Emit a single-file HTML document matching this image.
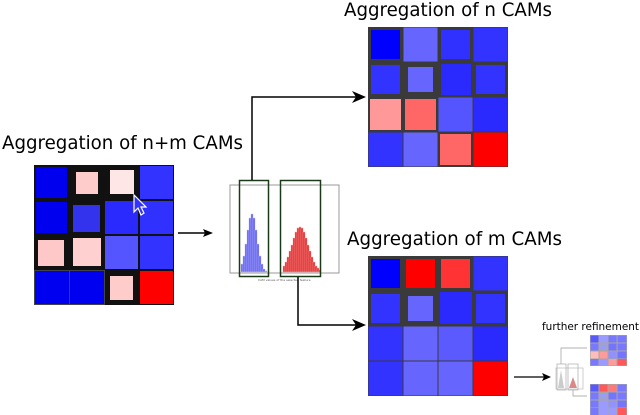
<!DOCTYPE html>
<html><head><style>body{margin:0;background:#fff}svg{display:block}text{font-family:"DejaVu Sans","Liberation Sans",sans-serif}</style></head><body>
<svg width="640" height="415" viewBox="0 0 640 415" xmlns="http://www.w3.org/2000/svg">
<text x="2" y="149" font-size="19" textLength="241" lengthAdjust="spacingAndGlyphs">Aggregation of n+m CAMs</text>
<text x="344" y="16" font-size="19" textLength="208" lengthAdjust="spacingAndGlyphs">Aggregation of n CAMs</text>
<text x="347" y="245" font-size="19" textLength="215" lengthAdjust="spacingAndGlyphs">Aggregation of m CAMs</text>
<text x="542" y="330" font-size="10.5" textLength="97" lengthAdjust="spacingAndGlyphs">further refinement</text>

<!-- left grid -->
<rect x="34" y="165" width="140" height="140" fill="#111"/>
<g>
<rect x="36" y="167" width="31" height="31" fill="#0000ee"/>
<rect x="76" y="172" width="22" height="22" fill="#ffcccc"/>
<rect x="110" y="170" width="24" height="24" fill="#ffe6e6"/>
<rect x="140" y="166" width="33" height="33" fill="#3333ff"/>
<rect x="36" y="202" width="31" height="31" fill="#0000ee"/>
<rect x="73" y="205" width="27" height="27" fill="#3333ee"/>
<rect x="105" y="201" width="33" height="33" fill="#2a2aff"/>
<rect x="140" y="201" width="33" height="33" fill="#3030ff"/>
<rect x="38" y="240" width="26" height="26" fill="#ffc8c8"/>
<rect x="73" y="238" width="28" height="28" fill="#ffd0d0"/>
<rect x="105" y="236" width="33" height="33" fill="#5555ff"/>
<rect x="140" y="236" width="33" height="33" fill="#3333ff"/>
<rect x="34.5" y="270.5" width="35" height="34" fill="#0000f0" stroke="#444" stroke-width="1"/>
<rect x="69.5" y="270.5" width="35" height="34" fill="#0000f0" stroke="#444" stroke-width="1"/>
<rect x="110" y="276" width="23" height="24" fill="#ffcccc"/>
<rect x="140" y="271" width="33" height="33" fill="#ff0000"/>
</g>
<polygon points="134,195 134,212 138,208 141,215 144,213 141,207 146,207" fill="#3333ff" stroke="#fff" stroke-width="1.2"/>

<!-- arrow left -->
<line x1="178" y1="233" x2="206" y2="233" stroke="#000" stroke-width="1.5"/>
<polygon points="213,233 203,229 205,233 203,237" fill="#000"/>

<!-- histogram -->
<rect x="230" y="185" width="109" height="88" fill="#fff" stroke="#999" stroke-width="1"/>
<g fill="#5555ee" stroke="#ccccff" stroke-width="0.5">
<rect x="241" y="264" width="2" height="8"/><rect x="243" y="256" width="2" height="16"/><rect x="245" y="244" width="2" height="28"/><rect x="247" y="230" width="2" height="42"/><rect x="249" y="218" width="2" height="54"/><rect x="251" y="214" width="2" height="58"/><rect x="253" y="218" width="2" height="54"/><rect x="255" y="230" width="2" height="42"/><rect x="257" y="244" width="2" height="28"/><rect x="259" y="256" width="2" height="16"/><rect x="261" y="264" width="2" height="8"/><rect x="263" y="269" width="2" height="3"/><rect x="265" y="271" width="2" height="1"/>
</g>
<g fill="#dd2222" stroke="#ffaaaa" stroke-width="0.5">
<rect x="283" y="266" width="2" height="6"/><rect x="285" y="262" width="2" height="10"/><rect x="287" y="257" width="2" height="15"/><rect x="289" y="251" width="2" height="21"/><rect x="291" y="245" width="2" height="27"/><rect x="293" y="238" width="2" height="34"/><rect x="295" y="232" width="2" height="40"/><rect x="297" y="228" width="2" height="44"/><rect x="299" y="227" width="2" height="45"/><rect x="301" y="228" width="2" height="44"/><rect x="303" y="232" width="2" height="40"/><rect x="305" y="238" width="2" height="34"/><rect x="307" y="245" width="2" height="27"/><rect x="309" y="251" width="2" height="21"/><rect x="311" y="257" width="2" height="15"/><rect x="313" y="262" width="2" height="10"/><rect x="315" y="266" width="2" height="6"/><rect x="317" y="268" width="2" height="4"/><rect x="319" y="270" width="2" height="2"/>
</g>
<text x="258" y="281" font-size="3" fill="#555">CAM values of the selected feature</text>
<rect x="239.5" y="180.5" width="29" height="96" fill="none" stroke="#1a3a1a" stroke-width="1.5"/>
<rect x="280.5" y="180.5" width="40" height="96" fill="none" stroke="#1a3a1a" stroke-width="1.5"/>

<!-- connectors -->
<polyline points="252,180 252,97 356,97" fill="none" stroke="#000" stroke-width="1.5"/>
<polygon points="366,97 352,91 356,97 352,103" fill="#000"/>
<polyline points="298,277 298,325 356,325" fill="none" stroke="#000" stroke-width="1.5"/>
<polygon points="366,325 352,319 356,325 352,331" fill="#000"/>

<!-- n grid -->
<rect x="368" y="27" width="140" height="140" fill="#3a3a3a"/>
<rect x="371" y="30" width="29" height="29" fill="#0000ff"/>
<rect x="403.5" y="27.5" width="34" height="34" fill="#6666ff"/>
<rect x="441" y="30" width="29" height="29" fill="#3030ff"/>
<rect x="473.5" y="27.5" width="34" height="34" fill="#3333ff"/>
<rect x="371" y="65" width="29" height="29" fill="#3333ff"/>
<rect x="408" y="67" width="25" height="25" fill="#6666ff"/>
<rect x="441" y="64" width="30" height="31" fill="#2a2aff"/>
<rect x="476" y="65" width="29" height="29" fill="#3333ff"/>
<rect x="370" y="99" width="31" height="31" fill="#ff9999"/>
<rect x="405" y="99" width="31" height="31" fill="#ff6666"/>
<rect x="438.5" y="97.5" width="34" height="34" fill="#5555ff"/>
<rect x="473.5" y="97.5" width="34" height="34" fill="#2a2aff"/>
<rect x="368.5" y="132.5" width="34" height="34" fill="#3333ff"/>
<rect x="403.5" y="132.5" width="34" height="34" fill="#6666ff"/>
<rect x="440" y="134" width="31" height="31" fill="#ff6666"/>
<rect x="473.5" y="132.5" width="34" height="34" fill="#ff0000"/>

<!-- m grid -->
<rect x="368" y="256" width="140" height="140" fill="#3a3a3a"/>
<rect x="371" y="259" width="29" height="29" fill="#0000ff"/>
<rect x="406" y="259" width="29" height="29" fill="#ff0000"/>
<rect x="441" y="259" width="29" height="29" fill="#ff3333"/>
<rect x="473.5" y="256.5" width="34" height="34" fill="#3333ff"/>
<rect x="371" y="294" width="29" height="29" fill="#3333ff"/>
<rect x="408" y="296" width="25" height="25" fill="#6666ff"/>
<rect x="440" y="292" width="32" height="32" fill="#2a2aff"/>
<rect x="476" y="294" width="29" height="29" fill="#3333ff"/>
<rect x="368.5" y="326.5" width="34" height="34" fill="#3333ff"/>
<rect x="403.5" y="326.5" width="34" height="34" fill="#6666ff"/>
<rect x="438.5" y="326.5" width="34" height="34" fill="#5a5aff"/>
<rect x="473.5" y="326.5" width="34" height="34" fill="#2a2aff"/>
<rect x="368.5" y="361.5" width="34" height="34" fill="#3333ff"/>
<rect x="403.5" y="361.5" width="34" height="34" fill="#6666ff"/>
<rect x="438.5" y="361.5" width="34" height="34" fill="#6666ff"/>
<rect x="473.5" y="361.5" width="34" height="34" fill="#ff0000"/>

<!-- further refinement -->
<line x1="514" y1="377" x2="544" y2="377" stroke="#000" stroke-width="1.3"/>
<polygon points="551,377 542,373 544,377 542,381" fill="#000"/>
<rect x="556" y="368" width="27" height="21" fill="#fff" stroke="#bbb" stroke-width="0.7"/>
<rect x="557" y="364" width="9" height="26" fill="none" stroke="#aaa" stroke-width="0.7"/>
<rect x="568" y="364" width="10" height="26" fill="none" stroke="#aaa" stroke-width="0.7"/>
<polygon points="558,388 561,370 564,388" fill="#ccc"/>
<polygon points="569,388 573,377 577,388" fill="#dd8888"/>
<polyline points="561,364 561,348 587,348" fill="none" stroke="#999" stroke-width="0.7"/>
<polyline points="573,390 573,396 587,396" fill="none" stroke="#999" stroke-width="0.7"/>
<g opacity="0.65">
<rect x="590" y="335" width="37" height="31" fill="#777"/>
<rect x="590.5" y="335.5" width="8" height="7" fill="#0000ff"/><rect x="599.5" y="335.5" width="8" height="7" fill="#6666ff"/><rect x="608.5" y="335.5" width="8" height="7" fill="#3030ff"/><rect x="617.5" y="335.5" width="9" height="7" fill="#3333ff"/>
<rect x="590.5" y="343.5" width="8" height="7" fill="#3333ff"/><rect x="600.5" y="344.5" width="6" height="5" fill="#6666ff"/><rect x="608.5" y="343.5" width="8" height="7" fill="#2a2aff"/><rect x="617.5" y="343.5" width="9" height="7" fill="#3333ff"/>
<rect x="590.5" y="351.5" width="8" height="7" fill="#ff9999"/><rect x="599.5" y="351.5" width="8" height="7" fill="#ff6666"/><rect x="608.5" y="351.5" width="8" height="7" fill="#5555ff"/><rect x="617.5" y="351.5" width="9" height="7" fill="#2a2aff"/>
<rect x="590.5" y="359" width="8" height="6.5" fill="#3333ff"/><rect x="599.5" y="359" width="8" height="6.5" fill="#6666ff"/><rect x="608.5" y="359" width="8" height="6.5" fill="#ff6666"/><rect x="617.5" y="359" width="9" height="6.5" fill="#ff0000"/>
</g>
<g opacity="0.65">
<rect x="590" y="384" width="37" height="31" fill="#777"/>
<rect x="590.5" y="384.5" width="8" height="7" fill="#0000ff"/><rect x="599.5" y="384.5" width="8" height="7" fill="#ff0000"/><rect x="608.5" y="384.5" width="8" height="7" fill="#ff3333"/><rect x="617.5" y="384.5" width="9" height="7" fill="#3333ff"/>
<rect x="590.5" y="392.5" width="8" height="7" fill="#3333ff"/><rect x="600.5" y="393.5" width="6" height="5" fill="#6666ff"/><rect x="608.5" y="392.5" width="8" height="7" fill="#2a2aff"/><rect x="617.5" y="392.5" width="9" height="7" fill="#3333ff"/>
<rect x="590.5" y="400.5" width="8" height="7" fill="#3333ff"/><rect x="599.5" y="400.5" width="8" height="7" fill="#6666ff"/><rect x="608.5" y="400.5" width="8" height="7" fill="#5a5aff"/><rect x="617.5" y="400.5" width="9" height="7" fill="#2a2aff"/>
<rect x="590.5" y="408" width="8" height="7" fill="#3333ff"/><rect x="599.5" y="408" width="8" height="7" fill="#6666ff"/><rect x="608.5" y="408" width="8" height="7" fill="#6666ff"/><rect x="617.5" y="408" width="9" height="7" fill="#ff0000"/>
</g>
</svg>
</body></html>
